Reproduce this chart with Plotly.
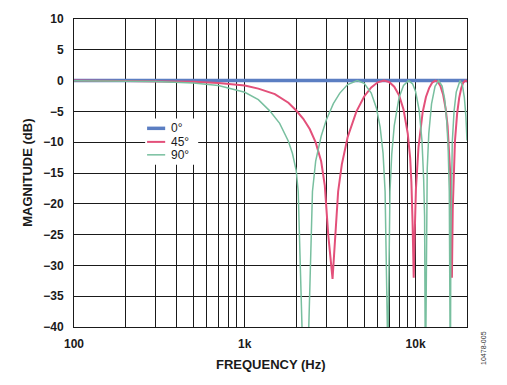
import plotly.graph_objects as go

# ---- data ----
freq_0 = [100, 1000, 10000, 20000]
mag_0 = [0, 0, 0, 0]

freq_45 = [100, 200, 300, 500, 700, 1000, 1200, 1500, 1800, 2000, 2200, 2400, 2600, 2800,
           2940, 3080, 3264, 3380, 3520, 3700, 4000, 4500, 5000, 5500, 6000, 6528, 7000,
           7500, 8000, 8500, 9000, 9300, 9450, 9600, 9750, 9900, 10050, 10400, 11000,
           11500, 12000, 12500, 13056, 13500, 14000, 14500, 15000, 15400, 15700, 15950,
           16150, 16320, 16500, 16700, 17000, 17500, 18000, 18500, 19000, 19584, 20000]
mag_45 = [0.0, -0.03, -0.07, -0.18, -0.38, -0.8, -1.3, -2.2, -3.6, -4.86, -6.19, -7.87,
          -10.04, -13.09, -17.0, -25.0, -32.2, -25.0, -18.0, -13.6, -9.2, -5.03, -2.58,
          -1.11, -0.28, 0.0, -0.23, -0.99, -2.38, -4.7, -8.6, -12.6, -16.5, -23.0, -32.0,
          -24.0, -17.5, -10.8, -5.13, -2.66, -1.21, -0.34, 0.0, -0.2, -0.93, -2.29, -4.54,
          -7.37, -10.63, -15.03, -21.0, -32.0, -21.0, -14.81, -9.85, -5.39, -2.81, -1.23,
          -0.34, 0.0, -0.18]

freq_90 = [100, 200, 300, 500, 700, 1000, 1200, 1400, 1600, 1800, 1900, 2000, 2055, 2265,
           2490, 2600, 2800, 3000, 3300, 3600, 4000, 4552, 5000, 5500, 5900, 6200, 6450,
           6630, 6880, 7080, 7250, 7500, 8000, 8500, 9104, 9600, 10000, 10500, 10900,
           11150, 11290, 11420, 11550, 11700, 11950, 12400, 13000, 13656, 14300, 14800,
           15200, 15500, 15750, 15880, 15980, 16080, 16200, 16400, 16800, 17300, 18208,
           18800, 19300, 19700, 20000]
mag_90 = [-0.02, -0.06, -0.14, -0.4, -0.8, -1.9, -3.1, -4.91, -6.94, -9.85, -11.8, -14.6,
          -18.0, -60.0, -18.0, -13.08, -9.03, -6.4, -3.75, -2.03, -0.64, 0.0, -0.43, -2.01,
          -4.48, -7.56, -11.78, -18.0, -45.0, -18.0, -12.0, -7.3, -2.76, -0.78, 0.0, -0.52,
          -1.78, -4.87, -9.78, -16.03, -22.0, -50.0, -22.0, -14.3, -8.6, -3.77, -0.92, 0.0,
          -0.89, -3.0, -6.33, -10.65, -18.0, -26.0, -50.0, -26.0, -16.5, -9.99, -4.94,
          -1.87, 0.0, -0.75, -2.74, -5.76, -9.71]

x_tick_vals = [100, 1000, 10000]
x_tick_text = ["100", "1k", "10k"]
x_minor_vals = [200, 300, 400, 500, 600, 700, 800, 900,
                2000, 3000, 4000, 5000, 6000, 7000, 8000, 9000, 20000]
y_tick_vals = [10, 5, 0, -5, -10, -15, -20, -25, -30, -35, -40]

names = ["0°", "45°", "90°"]
colors = ["#5b7ec2", "#e3507a", "#78bf9f"]
widths = [3.5, 2, 1.5]

FONT = "Liberation Sans, Arial, sans-serif"
INK = "#1a1a1a"

fig = go.Figure()
for fx, my, nm, c, w in zip([freq_0, freq_45, freq_90], [mag_0, mag_45, mag_90],
                            names, colors, widths):
    fig.add_trace(go.Scatter(x=fx, y=my, mode="lines", name=nm,
                             line=dict(color=c, width=w), showlegend=False))

tick_font = dict(family=FONT, size=12, color=INK, weight="bold")

# compact legend (paper coordinates)
leg_box = dict(x0=0.181, x1=0.316, y0=0.527, y1=0.677)
leg_line_x = (0.186, 0.232)
leg_text_x = 0.243
leg_rows_y = [0.645, 0.601, 0.559]

shapes = [dict(type="rect", xref="paper", yref="paper", layer="above",
               fillcolor="white", line=dict(width=0), **leg_box)]
annotations = []
for nm, c, w, yy in zip(names, colors, widths, leg_rows_y):
    shapes.append(dict(type="line", xref="paper", yref="paper", layer="above",
                       x0=leg_line_x[0], x1=leg_line_x[1], y0=yy, y1=yy,
                       line=dict(color=c, width=w)))
    annotations.append(dict(text=nm, xref="paper", yref="paper", x=leg_text_x, y=yy,
                            xanchor="left", yanchor="middle", showarrow=False,
                            font=dict(family=FONT, size=12, color=INK)))

annotations += [
    dict(text="FREQUENCY (Hz)", xref="paper", yref="paper", x=0.5, y=-0.123,
         xanchor="center", yanchor="middle", showarrow=False,
         font=dict(family=FONT, size=13, color=INK, weight="bold")),
    dict(text="MAGNITUDE (dB)", xref="paper", yref="paper", x=-0.12, y=0.5,
         xanchor="center", yanchor="middle", showarrow=False, textangle=-90,
         font=dict(family=FONT, size=13, color=INK, weight="bold")),
    dict(text="10478-005", xref="paper", yref="paper", x=1.0415, y=-0.067,
         xanchor="center", yanchor="middle", showarrow=False, textangle=-90,
         font=dict(family=FONT, size=7, color="#333333")),
]

fig.update_layout(
    width=507, height=385,
    margin=dict(l=74, r=40, t=14, b=58),
    paper_bgcolor="white", plot_bgcolor="white",
    showlegend=False,
    xaxis=dict(type="log", range=[2, 4.30103],
               tickvals=x_tick_vals, ticktext=x_tick_text,
               showgrid=True, gridcolor=INK, gridwidth=1,
               minor=dict(tickvals=x_minor_vals, showgrid=True,
                          gridcolor=INK, gridwidth=1, ticks=""),
               showline=True, linecolor=INK, linewidth=1, mirror=True,
               ticks="", tickfont=tick_font, ticklabelstandoff=6,
               zeroline=False),
    yaxis=dict(range=[-40, 10], tickvals=y_tick_vals,
               showgrid=True, gridcolor=INK, gridwidth=1,
               showline=True, linecolor=INK, linewidth=1, mirror=True,
               ticks="", tickfont=tick_font, ticklabelstandoff=7,
               zeroline=False),
    shapes=shapes,
    annotations=annotations,
)

fig.write_html("out.html", config={"displayModeBar": False},
               post_script="document.body.style.margin='0';document.body.style.padding='0';")
